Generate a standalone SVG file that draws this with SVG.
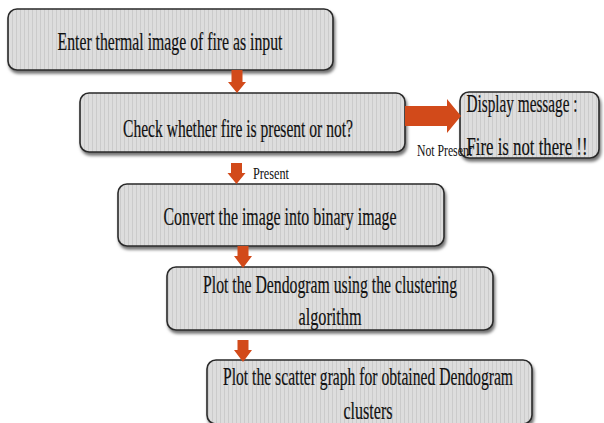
<svg xmlns="http://www.w3.org/2000/svg" width="604" height="423" viewBox="0 0 604 423">
<defs>
<pattern id="stripes" width="4" height="10" patternUnits="userSpaceOnUse">
<rect width="4" height="10" fill="#dddddd"/>
<rect x="0" width="1" height="10" fill="#cbcbcb"/>
</pattern>
<filter id="sh" x="-5%" y="-10%" width="112%" height="130%">
<feDropShadow dx="1.5" dy="3" stdDeviation="1.8" flood-color="#000" flood-opacity="0.55"/>
</filter>
</defs>
<style>
.box{fill:url(#stripes);stroke:#2a2a2a;stroke-width:1.6;filter:url(#sh)}
.t{font-family:"Liberation Serif","Times New Roman",serif;font-size:25px;fill:#111;text-anchor:middle;stroke:#111;stroke-width:0.2}
.s{font-family:"Liberation Serif","Times New Roman",serif;font-size:17px;fill:#111}
.arr{fill:#d24a1a}
</style>
<rect width="604" height="423" fill="#fff"/>
<g id="n1">
<rect class="box" x="8" y="9" width="325" height="61" rx="9"/>
<text class="t" x="170" y="50" textLength="225" lengthAdjust="spacingAndGlyphs">Enter thermal image of fire as input</text>
</g>
<g id="n2">
<rect class="box" x="80" y="93" width="325" height="59" rx="9"/>
<text class="t" x="238" y="137" textLength="230" lengthAdjust="spacingAndGlyphs">Check whether fire is present or not?</text>
</g>
<g id="n3">
<rect class="box" x="460" y="92" width="139" height="66" rx="9"/>
<text class="t" x="522" y="112" textLength="111" lengthAdjust="spacingAndGlyphs">Display message :</text>
<text class="t" x="527" y="155" textLength="121" lengthAdjust="spacingAndGlyphs">Fire is not there !!</text>
</g>
<g id="n4">
<rect class="box" x="118" y="184" width="326" height="62" rx="9"/>
<text class="t" x="280" y="225" textLength="233" lengthAdjust="spacingAndGlyphs">Convert the image into binary image</text>
</g>
<g id="n5">
<rect class="box" x="167" y="267" width="326" height="63" rx="9"/>
<text class="t" x="330" y="293" textLength="254" lengthAdjust="spacingAndGlyphs">Plot the Dendogram using the clustering</text>
<text class="t" x="330" y="325" textLength="63" lengthAdjust="spacingAndGlyphs">algorithm</text>
</g>
<g id="n6">
<rect class="box" x="207" y="360" width="325" height="64" rx="9"/>
<text class="t" x="368" y="385" textLength="290" lengthAdjust="spacingAndGlyphs">Plot the scatter graph for obtained Dendogram</text>
<text class="t" x="368" y="419" textLength="49" lengthAdjust="spacingAndGlyphs">clusters</text>
</g>
<g id="connectors">
<path class="arr" d="M231.5,70 H242.5 V82 H246 L237,93 L228,82 H231.5 Z"/>
<path class="arr" d="M231,163 H242 V173 H245.5 L236.5,184 L227.5,173 H231 Z"/>
<path class="arr" d="M237.5,246 H248.5 V256 H252 L243,268 L234,256 H237.5 Z"/>
<path class="arr" d="M237.5,340 H248.5 V350 H252 L243,362 L234,350 H237.5 Z"/>
<path class="arr" d="M405,106 H447 V99 L461,116 L447,133 V126 H405 Z"/>
<text class="s" x="417" y="156" textLength="55" lengthAdjust="spacingAndGlyphs">Not Present</text>
<text class="s" x="253" y="179" textLength="36" lengthAdjust="spacingAndGlyphs">Present</text>
</g>
</svg>
